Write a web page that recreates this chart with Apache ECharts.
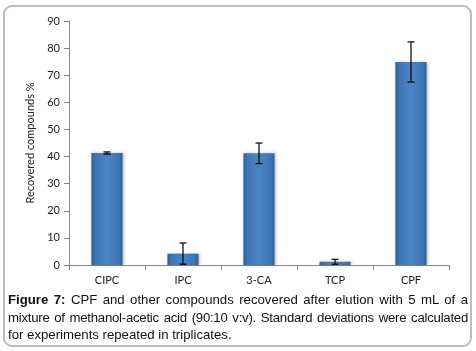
<!DOCTYPE html>
<html>
<head>
<meta charset="utf-8">
<script src="https://cdn.jsdelivr.net/npm/echarts@6/dist/echarts.min.js"></script>
<style>
html,body{margin:0;padding:0;background:#fff;}
#wrap{position:relative;width:476px;height:351px;overflow:hidden;}
#chart{position:absolute;left:0;top:0;width:476px;height:351px;}
#cap{position:absolute;left:8px;top:291px;width:460px;font-family:"Liberation Sans",Arial,sans-serif;font-size:13.2px;line-height:17.5px;color:#111;z-index:5;}
#cap span{display:block;text-align:justify;text-align-last:justify;white-space:nowrap;}
#cap span.l2{letter-spacing:-0.25px;}
#cap span.last{text-align-last:left;}
</style>
</head>
<body>
<div id="wrap">
<div id="chart"></div>
<div id="cap">
<span><b>Figure 7:</b> CPF and other compounds recovered after elution with 5 mL of a</span>
<span class="l2">mixture of methanol-acetic acid (90:10 v:v). Standard deviations were calculated</span>
<span class="last">for experiments repeated in triplicates.</span>
</div>
</div>
<script>
const categories = ["CIPC", "IPC", "3-CA", "TCP", "CPF"];
const recovered = [41.3, 4.2, 41.2, 1.2, 74.9];
const stdDev = [0.4, 3.9, 3.8, 0.9, 7.4];
const yTicks = [0, 10, 20, 30, 40, 50, 60, 70, 80, 90];

const chart = echarts.init(document.getElementById('chart'));
const barColor = new echarts.graphic.LinearGradient(0, 0, 1, 0, [
  {offset: 0, color: '#2e5e98'},
  {offset: 0.12, color: '#3f74b4'},
  {offset: 0.5, color: '#4a84c6'},
  {offset: 0.88, color: '#3f74b4'},
  {offset: 1, color: '#2e5e98'}
]);
const errData = categories.map((c, i) => [i, recovered[i] - stdDev[i], recovered[i] + stdDev[i]]);
chart.setOption({
  animation: false,
  graphic: {
    elements: [{
      type: 'rect', z: 100, silent: true,
      shape: {x: 4, y: 6, width: 467, height: 340, r: 8},
      style: {fill: 'rgba(0,0,0,0)', stroke: '#bdbdbd', lineWidth: 2}
    }]
  },
  grid: {left: 69, right: 27, top: 21, bottom: 86, containLabel: false},
  xAxis: {
    type: 'category',
    data: categories,
    axisLine: {lineStyle: {color: '#868686', width: 1}},
    axisTick: {show: true, length: 5, alignWithLabel: false, lineStyle: {color: '#868686'}},
    axisLabel: {color: '#222', fontFamily: 'Lato, "Open Sans", sans-serif', fontSize: 11, margin: 10}
  },
  yAxis: {
    type: 'value',
    min: yTicks[0],
    max: yTicks[yTicks.length - 1],
    interval: 10,
    name: 'Recovered compounds %',
    nameLocation: 'middle',
    nameGap: 30,
    nameTextStyle: {color: '#222', fontFamily: 'Lato, "Open Sans", sans-serif', fontSize: 11},
    axisLine: {show: true, lineStyle: {color: '#868686', width: 1}},
    axisTick: {show: true, length: 5, lineStyle: {color: '#868686'}},
    axisLabel: {color: '#222', fontFamily: 'Lato, "Open Sans", sans-serif', fontSize: 11, margin: 9},
    splitLine: {show: false}
  },
  series: [
    {
      type: 'bar',
      data: recovered,
      barWidth: '41%',
      itemStyle: {color: barColor,
        shadowColor: 'rgba(0,0,0,0.25)', shadowBlur: 3, shadowOffsetX: 1}
    },
    {
      type: 'custom',
      data: errData,
      z: 10,
      renderItem: function (params, api) {
        const x = api.value(0);
        const lo = api.coord([x, api.value(1)]);
        const hi = api.coord([x, api.value(2)]);
        const hw = 3.5;
        const st = {stroke: '#000', lineWidth: 1.2};
        return {type: 'group', children: [
          {type: 'line', shape: {x1: lo[0], y1: lo[1], x2: hi[0], y2: hi[1]}, style: st},
          {type: 'line', shape: {x1: lo[0] - hw, y1: lo[1], x2: lo[0] + hw, y2: lo[1]}, style: st},
          {type: 'line', shape: {x1: hi[0] - hw, y1: hi[1], x2: hi[0] + hw, y2: hi[1]}, style: st}
        ]};
      }
    }
  ]
});
</script>
</body>
</html>
